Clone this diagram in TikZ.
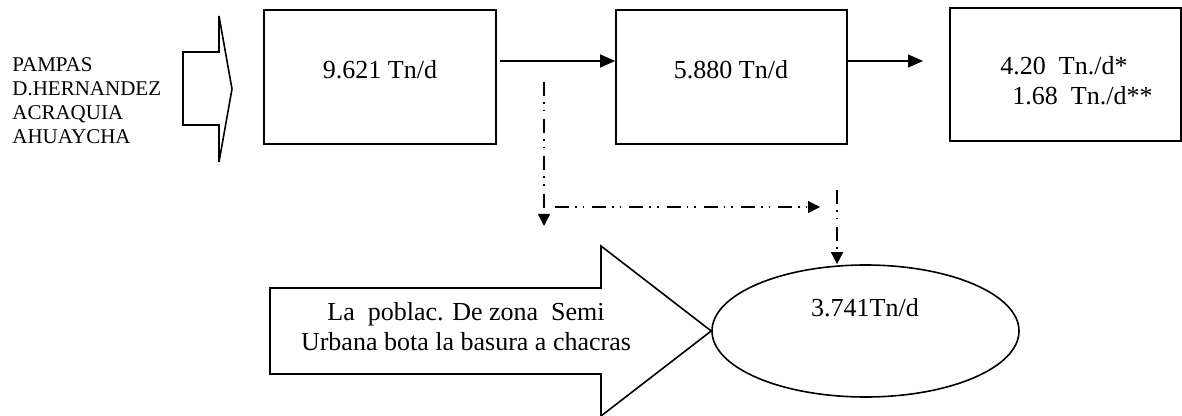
\documentclass[tikz,border=0pt]{standalone}
\usepackage{fontspec}
\setmainfont{Liberation Serif}
\usetikzlibrary{arrows.meta,shapes.geometric}

\begin{document}
\begin{tikzpicture}[x=0.5pt, y=-0.5pt,
	box/.style={draw, line width=0.9pt, inner sep=0pt},
	txt/.style={font=\fontsize{13}{15}\selectfont, inner sep=0pt},
	flow/.style={line width=0.7pt, -{Triangle[length=7.5pt,width=6.5pt]}},
	dashdot/.style={line width=0.7pt, dash pattern=on 7pt off 3pt on 0.8pt off 3pt on 0.8pt off 4pt, -{Triangle[length=6pt,width=6pt]}},
	blockarrow/.style={draw, line width=0.8pt, line join=miter}]
		%%%%% START %%%%%
		
		\useasboundingbox (0,0) rectangle (1182,416);
		
		\node[txt, anchor=west, align=left, font=\fontsize{10.5}{12}\selectfont] (src) at (12,101) {PAMPAS\\D.HERNANDEZ\\ACRAQUIA\\AHUAYCHA};
		\draw[blockarrow] (183,52) -- (219,52) -- (219,16) -- (232,89) -- (219,162) -- (219,125) -- (183,125) -- cycle;
		
		\node[box, minimum width=116pt, minimum height=67pt] (b1) at (380,77) {};
		\node[txt] (t1) at (380,70) {9.621 Tn/d};
		
		\node[box, minimum width=115.5pt, minimum height=67pt] (b2) at (731.5,77) {};
		\node[txt] (t2) at (731,70) {5.880 Tn/d};
		
		\node[box, minimum width=115.5pt, minimum height=66.5pt] (b3) at (1065.5,74.5) {};
		\node[txt, anchor=west, align=left] (t3) at (1000,81) {4.20~~Tn./d*\\\hspace*{6pt}1.68~~Tn./d**};
		
		\coordinate (a1s) at (500,61);
		\coordinate (a2e) at (923,61);
		\draw[flow] (a1s) -- (b2.west |- a1s);
		\draw[flow] (b2.east |- a2e) -- (a2e);
		
		\node[draw, ellipse, line width=0.8pt, minimum width=153.5pt, minimum height=66pt] (dump) at (865.5,331) {};
		\node[txt] (t4) at (865,308) {3.741Tn/d};
		
		\coordinate (d1s) at (544,82);
		\coordinate (d1e) at (544,226);
		\coordinate (d2s) at (555,207);
		\coordinate (d2e) at (820,207);
		\coordinate (d3s) at (837,190);
		\draw[dashdot] (d1s) -- (d1e);
		\draw[dashdot] (d2s) -- (d2e);
		\draw[dashdot] (d3s) -- (d3s |- dump.north);
		
		\draw[blockarrow] (270,288) -- (601,288) -- (601,246) -- (dump.west) -- (601,416) -- (601,374) -- (270,374) -- cycle;
		\node[txt, align=center] (t5) at (466,327) {La~~poblac. De zona~~Semi\\Urbana bota la basura a chacras};
		
		%%%%% END %%%%%
\end{tikzpicture}
\end{document}
